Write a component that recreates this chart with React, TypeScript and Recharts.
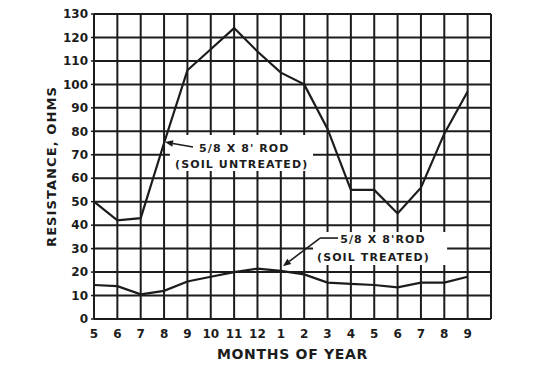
import { LineChart, Line, XAxis, YAxis, CartesianGrid, ReferenceArea, ReferenceLine, ReferenceDot, Label } from 'recharts'

// months along the bottom, May through the following September
const months = ['5', '6', '7', '8', '9', '10', '11', '12', '1', '2', '3', '4', '5', '6', '7', '8', '9']
const untreated = [50, 42, 43, 75, 106, 115, 124, 114, 105, 100, 81, 55, 55, 45, 56, 79, 97]
const treated = [14.5, 14, 10.5, 12, 16, 18, 20, 21.5, 20.5, 19, 15.5, 15, 14.5, 13.5, 15.5, 15.5, 18]
const yTicks = [0, 10, 20, 30, 40, 50, 60, 70, 80, 90, 100, 110, 120, 130]
const untreatedNote = ["5/8 X 8' ROD", '(SOIL UNTREATED)']
const treatedNote = ["5/8 X 8'ROD", '(SOIL TREATED)']

const INK = '#1c1c1c'
const FONT = '"DejaVu Sans", sans-serif'

const data = months.map((m, i) => ({ i, month: m, untreated: untreated[i], treated: treated[i] }))
// one extra grid column after the last month closes the frame
const xTicks = months.map((_, i) => i).concat(months.length)

function arrow(props: any) {
  const { x1, y1, x2, y2 } = props
  const a = Math.atan2(y2 - y1, x2 - x1)
  const len = 8, w = 3.2
  const bx = x2 - len * Math.cos(a), by = y2 - len * Math.sin(a)
  const pts = `${x2},${y2} ${bx + w * Math.sin(a)},${by - w * Math.cos(a)} ${bx - w * Math.sin(a)},${by + w * Math.cos(a)}`
  return (
    <g>
      <line x1={x1} y1={y1} x2={bx} y2={by} stroke={INK} strokeWidth={1.6} />
      <polygon points={pts} fill={INK} />
    </g>
  )
}

const noteText = (text: string) => (p: any) => (
  <text x={p.cx} y={p.cy} fontFamily={FONT} fontWeight="bold" fontSize={11} letterSpacing={1.1} fill={INK}>{text}</text>
)

export default function App() {
  return (
    <div style={{ position: 'absolute', left: 0, top: 0, background: '#fff' }}>
      <LineChart width={542} height={367} data={data} margin={{ top: 14, right: 51, bottom: 8, left: 34 }}>
        <CartesianGrid stroke={INK} strokeWidth={2} />
        <XAxis
          dataKey="i"
          type="number"
          domain={[0, months.length]}
          ticks={xTicks}
          tickFormatter={(v: number) => months[v] ?? ''}
          interval={0}
          height={40}
          tickSize={0}
          tickMargin={10}
          axisLine={{ stroke: INK, strokeWidth: 2 }}
          tick={{ fill: INK, fontFamily: FONT, fontWeight: 'bold', fontSize: 12 }}
        >
          <Label value="MONTHS OF YEAR" position="insideBottom" offset={0} fill={INK}
            style={{ fontFamily: FONT, fontWeight: 'bold', fontSize: 14, letterSpacing: 0.7 }} />
        </XAxis>
        <YAxis
          domain={[0, 130]}
          ticks={yTicks}
          interval={0}
          width={60}
          tickSize={3}
          tickMargin={3}
          axisLine={{ stroke: INK, strokeWidth: 2 }}
          tickLine={{ stroke: INK, strokeWidth: 1.5 }}
          tick={{ fill: INK, fontFamily: FONT, fontWeight: 'bold', fontSize: 12 }}
        >
          <Label value="RESISTANCE, OHMS" angle={-90} position="insideLeft" offset={17} fill={INK}
            style={{ textAnchor: 'middle', fontFamily: FONT, fontWeight: 'bold', fontSize: 13, letterSpacing: 1.1 }} />
        </YAxis>

        <ReferenceArea x1={3.25} x2={9.38} y1={63.1} y2={78.4} fill="#fff" fillOpacity={1} stroke="none" />
        <ReferenceArea x1={9.38} x2={15.12} y1={23} y2={37.1} fill="#fff" fillOpacity={1} stroke="none" />

        <Line type="linear" dataKey="untreated" stroke={INK} strokeWidth={2.2} dot={false} isAnimationActive={false} />
        <Line type="linear" dataKey="treated" stroke={INK} strokeWidth={2.2} dot={false} isAnimationActive={false} />

        <ReferenceLine segment={[{ x: 4.24, y: 73.3 }, { x: 3.04, y: 75.4 }]} shape={arrow} />
        <ReferenceLine segment={[{ x: 10.45, y: 34.5 }, { x: 9.68, y: 34.5 }]} stroke={INK} strokeWidth={1.6} />
        <ReferenceLine segment={[{ x: 9.68, y: 34.5 }, { x: 8.09, y: 22.5 }]} shape={arrow} />

        <ReferenceDot x={4.5} y={71.2} r={0} shape={noteText(untreatedNote[0])} />
        <ReferenceDot x={3.47} y={64.4} r={0} shape={noteText(untreatedNote[1])} />
        <ReferenceDot x={10.54} y={32.4} r={0} shape={noteText(treatedNote[0])} />
        <ReferenceDot x={9.55} y={24.7} r={0} shape={noteText(treatedNote[1])} />
      </LineChart>
    </div>
  )
}
